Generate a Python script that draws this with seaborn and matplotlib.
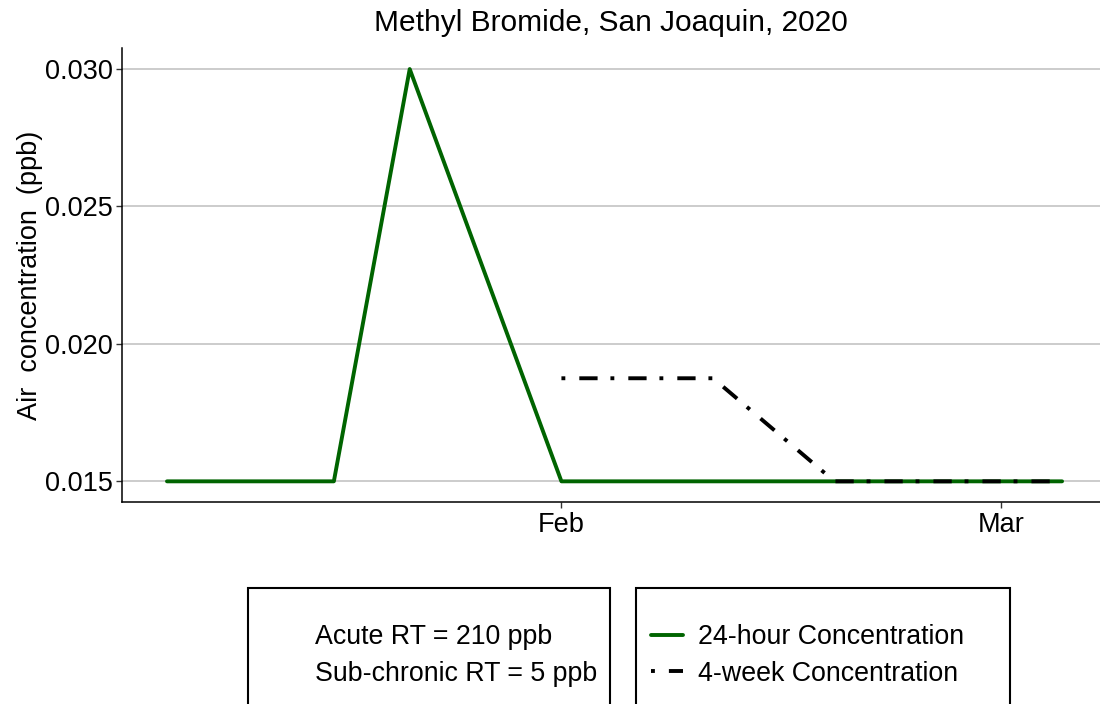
import pandas as pd
import numpy as np
import matplotlib.pyplot as plt
import matplotlib.dates as mdates
from matplotlib.lines import Line2D
from matplotlib.patches import Rectangle
import seaborn as sns

# daily (24-hour) samples
day_dates = ['2020-01-06', '2020-01-17', '2020-01-22', '2020-02-01', '2020-02-19', '2020-03-05']
day_conc = [0.015, 0.015, 0.030, 0.015, 0.015, 0.015]

# 4-week rolling concentration
week_dates = ['2020-02-01', '2020-02-11', '2020-02-19', '2020-03-05']
week_conc = [0.01875, 0.01875, 0.015, 0.015]

title = 'Methyl Bromide, San Joaquin, 2020'
rt_labels = ['Acute RT = 210 ppb', 'Sub-chronic RT = 5 ppb']
series_labels = ['24-hour Concentration', '4-week Concentration']

day_df = pd.DataFrame({'date': pd.to_datetime(day_dates), 'conc': day_conc})
week_df = pd.DataFrame({'date': pd.to_datetime(week_dates), 'conc': week_conc})

sns.set_style('white')
plt.rcParams['font.family'] = ['Liberation Sans', 'DejaVu Sans']
plt.rcParams['text.color'] = 'black'
plt.rcParams['axes.labelcolor'] = 'black'

W, H = 1100, 704
fig = plt.figure(figsize=(W / 100, H / 100), dpi=100)
ax = fig.add_axes([0.111, 0.287, 0.889, 0.645])

green = '#006400'
dashdot = (0, (1, 3.6, 4.7, 3.3))
sns.lineplot(data=day_df, x='date', y='conc', color=green, lw=2.8, ax=ax)
sns.lineplot(data=week_df, x='date', y='conc', color='black', lw=2.8, ax=ax,
             linestyle=dashdot)

ax.set_xlim(pd.Timestamp('2020-01-03 01:00'), pd.Timestamp('2020-03-07 12:00'))
ax.set_ylim(0.01425, 0.03077)
ax.set_yticks([0.015, 0.020, 0.025, 0.030])
ax.yaxis.set_major_formatter(plt.FuncFormatter(lambda v, p: f'{v:.3f}'))
ax.xaxis.set_major_locator(mdates.MonthLocator())
ax.xaxis.set_major_formatter(mdates.DateFormatter('%b'))

ax.grid(axis='y', color='#BEBEBE', lw=1.1)
ax.grid(axis='x', visible=False)
ax.set_axisbelow(True)
for s in ['top', 'right']:
    ax.spines[s].set_visible(False)
for s in ['left', 'bottom']:
    ax.spines[s].set_color('black')
    ax.spines[s].set_linewidth(1.1)
ax.tick_params(axis='both', length=4, width=1, color='#333333', labelsize=19.5,
               labelcolor='black', bottom=True, left=True, pad=3)

ax.set_xlabel('')
ax.set_ylabel('Air  concentration  (ppb)', fontsize=19.5, labelpad=1)
ax.set_title(title, fontsize=21.5, pad=12)

# legend frames, drawn in figure pixels
for x0, x1 in [(248, 610), (636, 1010)]:
    fig.patches.append(Rectangle((x0 / W, 1 - 720 / H), (x1 - x0) / W, (720 - 588) / H,
                                 transform=fig.transFigure, fill=False,
                                 edgecolor='black', lw=1.5))

# left legend: text only
blank = [Line2D([], [], color='none') for _ in rt_labels]
fig.legend(blank, rt_labels, loc='upper left', bbox_to_anchor=(315 / W, 1 - 624 / H),
           frameon=False, fontsize=19.3, handlelength=0, handletextpad=0,
           borderpad=0, labelspacing=0.4, borderaxespad=0)

handles = [Line2D([], [], color=green, lw=2.8),
           Line2D([], [], color='black', lw=2.8, linestyle=dashdot)]
fig.legend(handles, series_labels, loc='upper left', bbox_to_anchor=(651 / W, 1 - 624 / H),
           frameon=False, fontsize=19.3, handlelength=1.2, handletextpad=0.55,
           borderpad=0, labelspacing=0.4, borderaxespad=0)

plt.savefig('out.png', dpi=100)
